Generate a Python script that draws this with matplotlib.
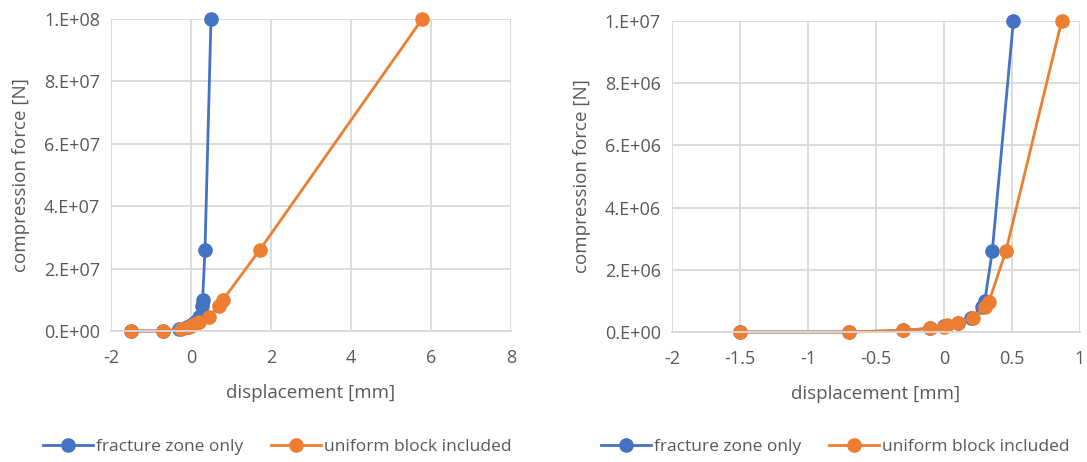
import matplotlib.pyplot as plt
from matplotlib.ticker import FuncFormatter, MultipleLocator

# fracture zone stiffness case (left, forces x10)
left_fz_x = [-1.5, -0.7, -0.3, -0.1, 0.0, 0.1, 0.2, 0.27, 0.29, 0.35, 0.5]
left_fz_y = [0, 0, 0.5e6, 1.2e6, 2.0e6, 3.0e6, 4.5e6, 8.0e6, 1.0e7, 2.6e7, 1.0e8]
left_ub_x = [-1.5, -0.7, -0.25, -0.05, 0.05, 0.1, 0.2, 0.45, 0.7, 0.8, 1.72, 5.78]
left_ub_y = [0, 0, 0.5e6, 1.2e6, 2.0e6, 2.2e6, 3.0e6, 4.5e6, 8.0e6, 1.0e7, 2.6e7, 1.0e8]

right_fz_x = [-1.5, -0.7, -0.3, -0.1, 0.0, 0.1, 0.2, 0.28, 0.3, 0.355, 0.51]
right_fz_y = [0, 0, 0.05e6, 0.12e6, 0.2e6, 0.3e6, 0.45e6, 0.8e6, 1.0e6, 2.6e6, 1.0e7]
right_ub_x = [-1.5, -0.7, -0.3, -0.1, 0.0, 0.02, 0.1, 0.21, 0.3, 0.33, 0.455, 0.865]
right_ub_y = [0, 0, 0.05e6, 0.12e6, 0.17e6, 0.22e6, 0.3e6, 0.44e6, 0.81e6, 0.97e6, 2.6e6, 1.0e7]

labels = ['fracture zone only', 'uniform block included']
blue = '#4472C4'
orange = '#ED7D31'
grey = '#595959'

plt.rcParams['font.family'] = ['Open Sans', 'DejaVu Sans']


def excel_sci(v, pos):
    if v == 0:
        return '0.E+00'
    exp = 0
    m = abs(v)
    while m >= 10:
        m /= 10
        exp += 1
    return '%d.E+%02d' % (round(m), exp)


def style(ax, xlim, xstep, ymax):
    ax.set_xlim(*xlim)
    ax.set_ylim(0, ymax)
    ax.xaxis.set_major_locator(MultipleLocator(xstep))
    ax.yaxis.set_major_locator(MultipleLocator(ymax / 5))
    ax.yaxis.set_major_formatter(FuncFormatter(excel_sci))
    ax.xaxis.set_major_formatter(FuncFormatter(lambda v, p: '%g' % v))
    ax.grid(True, color='#d9d9d9', lw=1.3)
    ax.set_axisbelow(True)
    for s in ['top', 'right', 'left']:
        ax.spines[s].set_visible(False)
    ax.spines['bottom'].set_color('#d9d9d9')
    ax.spines['bottom'].set_linewidth(1.3)
    ax.tick_params(length=0, labelsize=13, colors=grey)
    ax.tick_params(axis='x', pad=13)
    ax.tick_params(axis='y', pad=8)
    ax.set_xlabel('displacement [mm]', fontsize=13.5, color=grey, labelpad=12)
    ax.set_ylabel('compression force [N]', fontsize=13.5, color=grey, labelpad=10)


fig = plt.figure(figsize=(10.87, 4.62), dpi=100)
ax1 = fig.add_axes([111 / 1087, 131 / 462, 400 / 1087, 312 / 462])
ax2 = fig.add_axes([672 / 1087, 130 / 462, 408 / 1087, 311 / 462])

kw = dict(marker='o', markersize=9.5, lw=2, clip_on=False)
for ax, fx, fy, ux, uy in [(ax1, left_fz_x, left_fz_y, left_ub_x, left_ub_y),
                           (ax2, right_fz_x, right_fz_y, right_ub_x, right_ub_y)]:
    ax.plot(fx, fy, color=blue, label=labels[0], **kw)
    ax.plot(ux, uy, color=orange, label=labels[1], **kw)

style(ax1, (-2, 8), 2, 1e8)
style(ax2, (-2, 1), 0.5, 1e7)

for ax, cx in [(ax1, 277 / 1087), (ax2, 835 / 1087)]:
    h, l = ax.get_legend_handles_labels()
    fig.legend(h, l, loc='center', bbox_to_anchor=(cx, 1 - 447 / 462), ncol=2,
               frameon=False, fontsize=12.5, labelcolor=grey, handlelength=2.9,
               handletextpad=0.15, columnspacing=1.6)

fig.savefig('out.png', dpi=100)
